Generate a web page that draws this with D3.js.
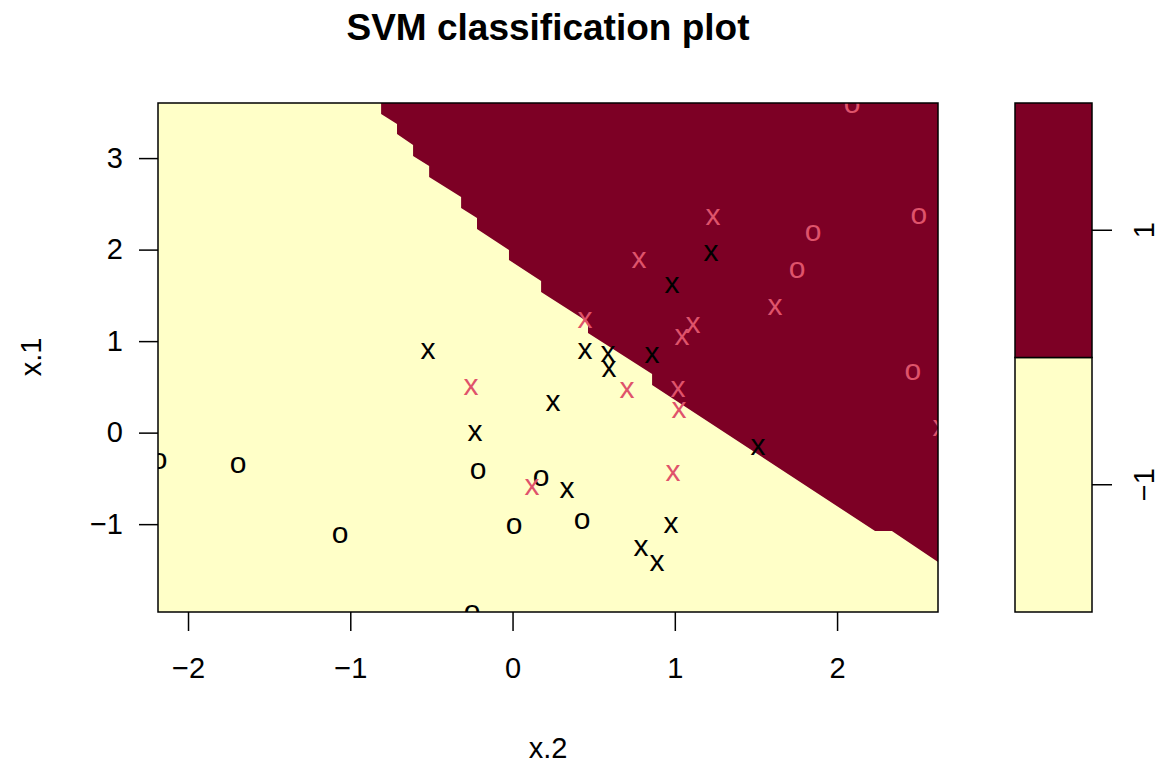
<html>
<meta charset="utf-8" />
<head>
<title>SVM classification plot</title>
<style>
body { margin: 0; background: white; }
svg text { font-family: "Liberation Sans", Arial, sans-serif; fill: black; }
</style>
<script src="https://d3js.org/d3.v7.min.js" charset="utf-8"></script>
</head>
<body>
<svg class="chart" width="1161" height="763"></svg>

<script>
/********
 * Data *
 ********/

// x = x.2, y = x.1
var blackO = [[-2.178,-0.31],[-1.691,-0.354],[-1.063,-1.121],[-0.213,-0.42],[0.009,-1.021],
              [0.176,-0.496],[0.428,-0.966],[-0.25,-1.97]];
var blackX = [[-0.521,0.892],[-0.231,-0.004],[0.25,0.323],[0.336,-0.628],[0.447,0.892],
              [0.588,0.859],[0.595,0.695],[0.86,0.848],[0.983,1.613],[1.223,1.963],
              [0.977,-1.01],[0.792,-1.261],[0.89,-1.425],[1.513,-0.157]];
var redX = [[-0.256,0.498],[0.12,-0.594],[0.447,1.23],[0.779,1.886],[0.705,0.466],
            [1.112,1.176],[1.044,1.045],[1.02,0.477],[1.026,0.247],[0.989,-0.442],
            [1.235,2.356],[1.617,1.372],[2.635,0.05]];
var redO = [[2.092,3.58],[2.504,2.363],[1.852,2.186],[1.753,1.782],[2.467,0.663]];

// outline of the region classified as "1" (staircase from the contour grid)
var boundary = [[-0.81,3.602],[-0.81,3.482],[-0.712,3.373],[-0.712,3.263],[-0.613,3.143],
                [-0.613,3.023],[-0.514,2.914],[-0.514,2.793],[-0.317,2.575],[-0.317,2.455],
                [-0.219,2.346],[-0.219,2.225],[-0.022,1.996],[-0.022,1.887],[0.176,1.657],
                [0.176,1.537],[0.465,1.209],[0.465,1.089],[0.86,0.641],[0.86,0.52],
                [2.234,-1.075],[2.338,-1.075],[2.622,-1.414],[2.622,3.602]];

var xTicks = [-2,-1,0,1,2];
var yTicks = [-1,0,1,2,3];
var classes = ["-1","1"];
var classColors = ["#FFFFC8","#7D0025"];

/**********
 * Scales *
 **********/
var x = d3.scaleLinear().domain([-2.185,2.622]).range([158,938]);
var y = d3.scaleLinear().domain([-1.96,3.602]).range([612,103]);
var lg = d3.scaleBand().domain(classes).range([612,103]);

function fmt(d){ return d < 0 ? "\u2212" + Math.abs(d) : "" + d; }

var svg = d3.select(".chart");

svg.append("defs").append("clipPath").attr("id","plotclip")
  .append("rect").attr("x",158).attr("y",103).attr("width",780).attr("height",509);

var plot = svg.append("g").attr("clip-path","url(#plotclip)");

plot.append("rect")
    .attr("x",x(-2.185)).attr("y",y(3.602))
    .attr("width",x(2.622)-x(-2.185)).attr("height",y(-1.96)-y(3.602))
    .attr("fill",classColors[0]);

plot.append("path")
    .datum(boundary)
    .attr("d",d3.line().x(function(d){ return x(d[0]); }).y(function(d){ return y(d[1]); }).curve(d3.curveLinearClosed))
    .attr("fill",classColors[1]);

function drawPoints(data, sym, col) {
  plot.selectAll(null)
      .data(data)
    .enter().append("text")
      .attr("x",function(d){ return x(d[0]); })
      .attr("y",function(d){ return y(d[1]); })
      .attr("dy","0.27em")
      .style("text-anchor","middle")
      .style("font-size","30px")
      .style("fill",col)
      .text(sym);
}
drawPoints(blackO,"o","#000000");
drawPoints(blackX,"x","#000000");
drawPoints(redX,"x","#DF536B");
drawPoints(redO,"o","#DF536B");

svg.append("rect")
    .attr("x",158).attr("y",103).attr("width",780).attr("height",509)
    .attr("fill","none").attr("stroke","black").attr("stroke-width",1.5);

/********
 * Axes *
 ********/
var xAxis = d3.axisBottom(x).tickValues(xTicks).tickFormat(fmt).tickSize(19).tickPadding(26);
var yAxis = d3.axisLeft(y).tickValues(yTicks).tickFormat(fmt).tickSize(19).tickPadding(16);

var gx = svg.append("g").attr("transform","translate(0,612)").call(xAxis);
var gy = svg.append("g").attr("transform","translate(158,0)").call(yAxis);
[gx,gy].forEach(function(g){
  g.select(".domain").remove();
  g.selectAll("line").attr("stroke","black").attr("stroke-width",1.5);
  g.selectAll("text").style("font-size","29px").style("font-family","'Liberation Sans', Arial, sans-serif");
});

svg.append("text")
    .attr("x",548).attr("y",758)
    .style("text-anchor","middle").style("font-size","29px")
    .text("x.2");

svg.append("text")
    .attr("transform","translate(41,357) rotate(-90)")
    .style("text-anchor","middle").style("font-size","29px")
    .text("x.1");

svg.append("text")
    .attr("x",548).attr("y",40)
    .style("text-anchor","middle").style("font-size","37px").style("font-weight","bold")
    .text("SVM classification plot");

/**********
 * Legend *
 **********/
var legend = svg.append("g");
legend.selectAll("rect")
    .data(classes)
  .enter().append("rect")
    .attr("x",1015).attr("width",77)
    .attr("y",function(d){ return lg(d); })
    .attr("height",lg.bandwidth())
    .attr("fill",function(d,i){ return classColors[i]; })
    .attr("stroke","black").attr("stroke-width",1.5);

var legendAxis = d3.axisRight(lg).tickFormat(function(d){ return fmt(+d); }).tickSize(20).tickPadding(0);
var gl = svg.append("g").attr("transform","translate(1092,0)").call(legendAxis);
gl.select(".domain").remove();
gl.selectAll("line").attr("stroke","black").attr("stroke-width",1.5);
gl.selectAll("text")
    .attr("x",0).attr("dy",0)
    .attr("transform","translate(62,0) rotate(-90)")
    .style("text-anchor","middle")
    .style("font-size","29px")
    .style("font-family","'Liberation Sans', Arial, sans-serif");
</script>
</body>
</html>
